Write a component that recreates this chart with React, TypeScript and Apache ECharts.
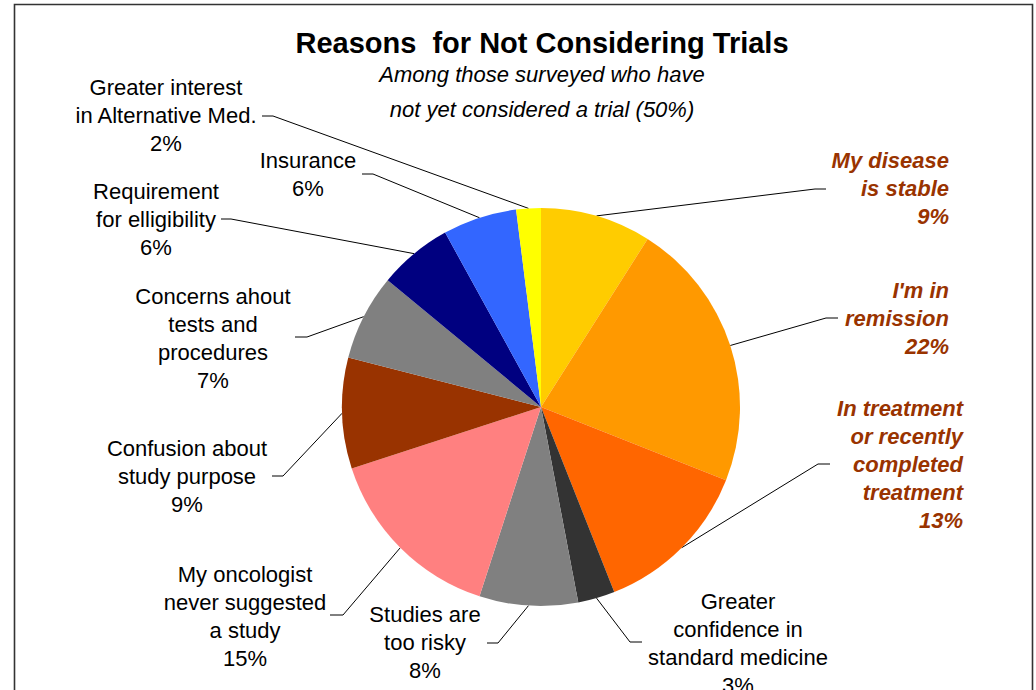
import React, { useEffect, useRef } from 'react';
import * as echarts from 'echarts';

// ---- data ----
const categories: string[] = [
  'My disease\nis stable',
  "I'm in\nremission",
  'In treatment\nor recently\ncompleted\ntreatment',
  'Greater\nconfidence in\nstandard medicine',
  'Studies are\ntoo risky',
  'My oncologist\nnever suggested\na study',
  'Confusion about\nstudy purpose',
  'Concerns ahout\ntests and\nprocedures',
  'Requirement\nfor elligibility',
  'Insurance',
  'Greater interest\nin Alternative Med.',
];
const values: number[] = [9, 22, 13, 3, 8, 15, 9, 7, 6, 6, 2];
const emphasized: boolean[] = [true, true, true, false, false, false, false, false, false, false, false];
const titleText = 'Reasons  for Not Considering Trials';
const subtitleLines: string[] = ['Among those surveyed who have', 'not yet considered a trial (50%)'];

// ---- styling / layout ----
const sliceColors = ['#FFCC00', '#FF9900', '#FF6600', '#333333', '#808080', '#FF8080', '#993300', '#808080', '#000080', '#3366FF', '#FFFF00'];
const labelAnchors: { x: number; y: number; align: 'left' | 'center' | 'right'; elbow: number[]; end: number[] }[] = [
  { x: 949, y: 188, align: 'right', elbow: [815, 189], end: [826, 189] },
  { x: 949, y: 318, align: 'right', elbow: [826, 318], end: [838, 318] },
  { x: 963, y: 464, align: 'right', elbow: [818, 464], end: [830, 464] },
  { x: 738, y: 643, align: 'center', elbow: [630, 642], end: [642, 642] },
  { x: 425, y: 642, align: 'center', elbow: [498, 643], end: [487, 643] },
  { x: 245, y: 616, align: 'center', elbow: [343, 615], end: [330, 615] },
  { x: 187, y: 476, align: 'center', elbow: [283, 476], end: [272, 476] },
  { x: 213, y: 338, align: 'center', elbow: [307, 337], end: [295, 337] },
  { x: 156, y: 219, align: 'center', elbow: [231, 219], end: [221, 219] },
  { x: 308, y: 174, align: 'center', elbow: [373, 174], end: [362, 174] },
  { x: 166, y: 115, align: 'center', elbow: [273, 116], end: [262, 116] },
];
const FONT = '"Liberation Sans", Arial, sans-serif';
const CX = 541;
const CY = 407;
const R = 199;

export default function App() {
  const ref = useRef<HTMLDivElement>(null);
  useEffect(() => {
    if (!ref.current) return;
    const chart = echarts.init(ref.current, undefined, { renderer: 'svg' });
    const data = categories.map((name, i) => ({
      name,
      value: values[i],
      itemStyle: { color: sliceColors[i] },
      label: emphasized[i]
        ? { color: '#993300', fontWeight: 'bold', fontStyle: 'italic', align: 'right' }
        : { color: '#000000', fontWeight: 'normal', fontStyle: 'normal', align: 'center' },
    }));
    chart.setOption({
      animation: false,
      backgroundColor: '#ffffff',
      graphic: [
        {
          type: 'rect',
          shape: { x: 14.5, y: 4.5, width: 1018, height: 720 },
          style: { fill: 'none', stroke: '#333333', lineWidth: 1.6 },
          z: 0,
        },
        {
          type: 'text',
          x: 542,
          y: 43,
          style: {
            text: titleText,
            font: `bold 29px ${FONT}`,
            fill: '#000000',
            textAlign: 'center',
            textVerticalAlign: 'middle',
          },
        },
        {
          type: 'text',
          x: 542,
          y: 74,
          style: {
            text: subtitleLines[0],
            font: `italic 22px ${FONT}`,
            fill: '#000000',
            textAlign: 'center',
            textVerticalAlign: 'middle',
          },
        },
        {
          type: 'text',
          x: 542,
          y: 109,
          style: {
            text: subtitleLines[1],
            font: `italic 22px ${FONT}`,
            fill: '#000000',
            textAlign: 'center',
            textVerticalAlign: 'middle',
          },
        },
      ],
      series: [
        {
          type: 'pie',
          center: [CX, CY],
          radius: R,
          startAngle: 90,
          clockwise: true,
          avoidLabelOverlap: false,
          itemStyle: { borderWidth: 0 },
          emphasis: { disabled: true },
          label: {
            show: true,
            position: 'outside',
            formatter: '{b}\n{c}%',
            fontFamily: FONT,
            fontSize: 22,
            lineHeight: 28,
          },
          labelLine: {
            show: true,
            length: 10,
            length2: 10,
            smooth: false,
            lineStyle: { color: '#000000', width: 1 },
          },
          labelLayout: (params: any) => {
            const a = labelAnchors[params.dataIndex];
            let start: number[];
            if (params.labelLinePoints && params.labelLinePoints[0]) {
              start = params.labelLinePoints[0];
            } else {
              let cum = 0;
              for (let k = 0; k < params.dataIndex; k++) cum += values[k];
              const total = values.reduce((s, v) => s + v, 0);
              const ang = ((cum + values[params.dataIndex] / 2) / total) * Math.PI * 2;
              start = [CX + R * Math.sin(ang), CY - R * Math.cos(ang)];
            }
            return {
              x: a.x,
              y: a.y,
              align: a.align,
              verticalAlign: 'middle',
              hideOverlap: false,
              labelLinePoints: [start, a.elbow, a.end],
            };
          },
          data,
        },
      ],
    });
    return () => chart.dispose();
  }, []);
  return (
    <div
      ref={ref}
      style={{ position: 'fixed', left: 0, top: 0, width: 1036, height: 690, background: '#fff' }}
    />
  );
}
